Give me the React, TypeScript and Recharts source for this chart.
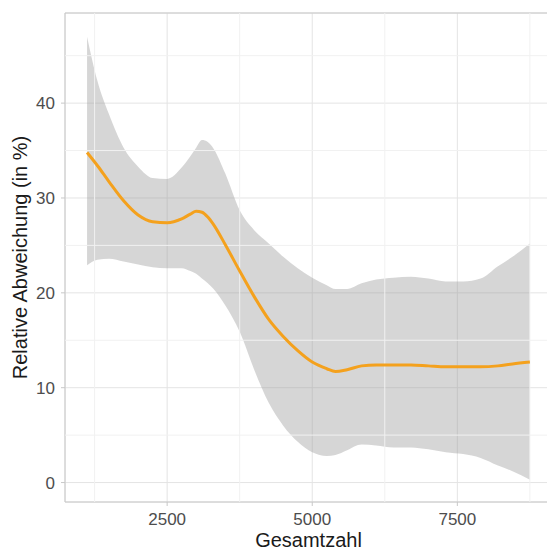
import {
  ComposedChart,
  Area,
  Line,
  XAxis,
  YAxis,
  CartesianGrid,
  ReferenceLine,
  ReferenceArea,
} from 'recharts';

// smoothed fit (loess-like) with its confidence band
const GESAMTZAHL = [
  1120, 1300, 1500, 1750, 2000, 2250, 2500, 2750, 2900, 3000, 3100, 3200, 3300, 3500, 3750, 4000,
  4250, 4500, 4750, 5000, 5250, 5400, 5600, 5850, 6100, 6400, 6700, 7000, 7300, 7600, 7900, 8200,
  8450, 8750,
];
const FIT = [
  34.8, 33.4, 31.7, 29.7, 28.2, 27.5, 27.4, 27.8, 28.3, 28.6, 28.5, 28.0, 27.2, 25.1, 22.3, 19.6,
  17.2, 15.4, 13.9, 12.7, 12.0, 11.7, 11.9, 12.3, 12.4, 12.4, 12.4, 12.3, 12.2, 12.2, 12.2, 12.3,
  12.5, 12.7,
];
const UPPER = [
  47.0, 42.3, 38.8, 35.3, 33.3, 32.1, 32.0, 33.2, 34.4, 35.3, 36.1, 35.9, 35.2, 32.6, 28.7, 26.6,
  25.2, 23.8, 22.6, 21.6, 20.8, 20.4, 20.4, 21.0, 21.4, 21.6, 21.7, 21.5, 21.2, 21.2, 21.5, 22.8,
  23.8, 25.2,
];
const LOWER = [
  22.9, 23.5, 23.6, 23.3, 23.0, 22.7, 22.6, 22.6, 22.3, 22.0, 21.5, 21.0, 20.4, 18.7, 15.9, 11.9,
  8.4, 6.0, 4.3, 3.2, 2.8, 2.9, 3.4, 4.0, 3.9, 3.7, 3.7, 3.5, 3.2, 3.0, 2.6, 1.8,
  1.2, 0.3,
];

const X_TICKS = [2500, 5000, 7500];
const Y_TICKS = [0, 10, 20, 30, 40];
const MINOR_X = [1250, 3750, 6250, 8750];
const MINOR_Y = [5, 15, 25, 35, 45];
const X_DOMAIN: [number, number] = [740, 9131];
const Y_DOMAIN: [number, number] = [-2.05, 49.5];

const rows = GESAMTZAHL.map((x, i) => ({
  x,
  fit: FIT[i],
  band: [LOWER[i], UPPER[i]],
}));

const FONT = '"Liberation Sans", Arial, Helvetica, sans-serif';

const YTitle = (props: any) => {
  const { viewBox } = props;
  const cx = 20;
  const cy = viewBox.y + viewBox.height / 2;
  return (
    <text
      x={cx}
      y={cy}
      transform={`rotate(-90, ${cx}, ${cy})`}
      textAnchor="middle"
      dominantBaseline="central"
      fontSize={20}
      fontFamily={FONT}
      fill="#1a1a1a"
    >
      Relative Abweichung (in %)
    </text>
  );
};

const App = () => {
  return (
    <div
      style={{
        position: 'absolute',
        left: 0,
        top: 0,
        width: 547,
        height: 552,
        overflow: 'hidden',
        background: '#ffffff',
      }}
    >
      <ComposedChart
        width={560}
        height={552}
        data={rows}
        margin={{ top: 13, right: 8, bottom: 0, left: 0 }}
      >
        <CartesianGrid stroke="#e4e4e4" strokeWidth={1} />
        {MINOR_X.map((v) => (
          <ReferenceLine key={`mx${v}`} x={v} stroke="#f1f1f1" strokeWidth={1} />
        ))}
        {MINOR_Y.map((v) => (
          <ReferenceLine key={`my${v}`} y={v} stroke="#f1f1f1" strokeWidth={1} />
        ))}
        <XAxis
          dataKey="x"
          type="number"
          domain={X_DOMAIN}
          ticks={X_TICKS}
          allowDataOverflow
          height={50}
          tickSize={4}
          tickMargin={7}
          axisLine={false}
          tickLine={{ stroke: '#c8c8c8' }}
          tick={{ fill: '#4d4d4d', fontSize: 17, fontFamily: FONT }}
          label={{
            value: 'Gesamtzahl',
            position: 'insideBottom',
            offset: 5,
            fontSize: 20,
            fontFamily: FONT,
            fill: '#1a1a1a',
          }}
        />
        <YAxis
          type="number"
          domain={Y_DOMAIN}
          ticks={Y_TICKS}
          allowDataOverflow
          width={65}
          tickSize={4}
          tickMargin={6}
          axisLine={false}
          tickLine={{ stroke: '#c8c8c8' }}
          tick={{ fill: '#4d4d4d', fontSize: 17, fontFamily: FONT }}
          label={{ content: YTitle }}
        />
        <Area
          type="monotone"
          dataKey="band"
          stroke="none"
          fill="#999999"
          fillOpacity={0.4}
          isAnimationActive={false}
          activeDot={false}
        />
        <Line
          type="monotone"
          dataKey="fit"
          stroke="#F4A11D"
          strokeWidth={3}
          dot={false}
          activeDot={false}
          isAnimationActive={false}
        />
        <ReferenceArea
          x1={X_DOMAIN[0]}
          x2={X_DOMAIN[1]}
          y1={Y_DOMAIN[0]}
          y2={Y_DOMAIN[1]}
          fill="none"
          stroke="#c8c8c8"
          strokeWidth={1}
        />
      </ComposedChart>
    </div>
  );
};

export default App;
